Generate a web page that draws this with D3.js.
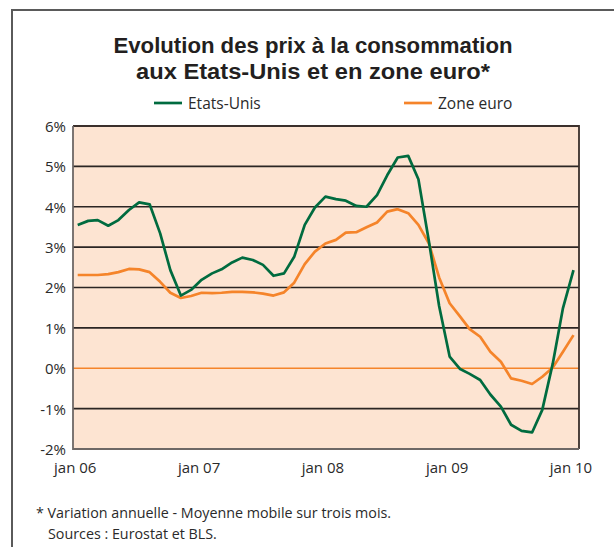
<!DOCTYPE html>
<html>
<head>
<meta charset="utf-8">
<script src="https://cdn.jsdelivr.net/npm/d3@7"></script>
<style>
  body { margin: 0; background: #fff; }
  svg { display: block; }
  text { font-family: "Open Sans", "Noto Sans", sans-serif; fill: #2a2a2a; }
</style>
</head>
<body>
<svg id="chart" width="614" height="547"></svg>
<script>
// monthly, jan 06 -> jan 10 (3-month moving average, % y/y)
const months = d3.timeMonth.range(new Date(2006, 0, 1), new Date(2010, 0, 2));

const etatsUnis = [
  3.55, 3.65, 3.67, 3.53, 3.67, 3.92, 4.11, 4.06, 3.34, 2.43, 1.80, 1.94,
  2.19, 2.35, 2.45, 2.62, 2.74, 2.68, 2.56, 2.29, 2.35, 2.76, 3.55, 3.98,
  4.25, 4.19, 4.15, 4.02, 4.00, 4.29, 4.78, 5.22, 5.26, 4.68, 3.14, 1.54,
  0.29, -0.02, -0.14, -0.29, -0.65, -0.95, -1.40, -1.55, -1.59, -1.03, 0.12, 1.49,
  2.43
];

const zoneEuro = [
  2.31, 2.31, 2.31, 2.33, 2.38, 2.46, 2.45, 2.38, 2.14, 1.87, 1.74, 1.79,
  1.87, 1.86, 1.87, 1.89, 1.89, 1.88, 1.85, 1.80, 1.88, 2.12, 2.58, 2.89,
  3.09, 3.18, 3.36, 3.37, 3.49, 3.61, 3.88, 3.94, 3.84, 3.55, 3.09, 2.25,
  1.61, 1.28, 0.97, 0.78, 0.41, 0.16, -0.25, -0.31, -0.39, -0.21, 0.02, 0.41,
  0.82
];

const yTicks = [-2, -1, 0, 1, 2, 3, 4, 5, 6];
const xTicks = [new Date(2006, 0, 1), new Date(2007, 0, 1), new Date(2008, 0, 1), new Date(2009, 0, 1), new Date(2010, 0, 1)];
const xTickLabels = ["jan 06", "jan 07", "jan 08", "jan 09", "jan 10"];

const titleLines = ["Evolution des prix à la consommation", "aux Etats-Unis et en zone euro*"];
const titleWidths = [399, 354];
const seriesNames = ["Etats-Unis", "Zone euro"];
const notes = ["* Variation annuelle - Moyenne mobile sur trois mois.", "Sources : Eurostat et BLS."];

const green = "#006b3f";
const orange = "#f5842a";

const svg = d3.select("#chart");

// outer frame (left + top only)
svg.append("path")
  .attr("d", "M12,547 L12,10 L614,10")
  .attr("fill", "none")
  .attr("stroke", "#5a5a5a")
  .attr("stroke-width", 2);

// title (condensed bold, squeezed to the reference widths)
svg.append("g").selectAll("text")
  .data(titleLines)
  .join("text")
  .attr("x", 313)
  .attr("y", (d, i) => 53 + i * 25.5)
  .attr("text-anchor", "middle")
  .attr("textLength", (d, i) => titleWidths[i])
  .attr("lengthAdjust", "spacingAndGlyphs")
  .style("font-family", "'Liberation Sans', Arial, sans-serif")
  .style("font-weight", "bold")
  .style("font-size", "22px")
  .style("fill", "#231f20")
  .text(d => d);

const plot = { left: 73, right: 579, top: 126, bottom: 449 };

const x = d3.scaleTime()
  .domain([months[0], months[months.length - 1]])
  .range([77.7, 573.5]);

const y = d3.scaleLinear()
  .domain([-2, 6])
  .range([plot.bottom, plot.top]);

// background
svg.append("rect")
  .attr("x", plot.left)
  .attr("y", plot.top)
  .attr("width", plot.right - plot.left)
  .attr("height", plot.bottom - plot.top)
  .attr("fill", "#fde4d2");

// grid lines
svg.append("g").selectAll("line")
  .data(yTicks.filter(d => d > -2 && d < 6))
  .join("line")
  .attr("x1", plot.left)
  .attr("x2", plot.right)
  .attr("y1", d => y(d))
  .attr("y2", d => y(d))
  .attr("stroke", d => d === 0 ? orange : "#2b2523")
  .attr("stroke-width", d => d === 0 ? 1.3 : 1.6);

// plot border
svg.append("path")
  .attr("d", `M${plot.left},${plot.top} L${plot.right},${plot.top} L${plot.right},${plot.bottom}`)
  .attr("fill", "none")
  .attr("stroke", "#3b302c")
  .attr("stroke-width", 1.8);
svg.append("path")
  .attr("d", `M${plot.left},${plot.top} L${plot.left},${plot.bottom} L${plot.right},${plot.bottom}`)
  .attr("fill", "none")
  .attr("stroke", "#6e6866")
  .attr("stroke-width", 1.8);

// y axis labels
const yAxis = d3.axisLeft(y).tickValues(yTicks).tickSize(0).tickPadding(7).tickFormat(d => d + "%");
svg.append("g")
  .attr("transform", `translate(${plot.left},0)`)
  .call(yAxis)
  .call(g => g.select(".domain").remove())
  .call(g => g.selectAll("text")
    .style("font-family", "'Open Sans', sans-serif")
    .style("font-size", "15px")
    .attr("fill", "#2a2a2a")
    .attr("dy", "0.36em"));

// x axis labels
const xAxis = d3.axisBottom(x).tickValues(xTicks).tickSize(0).tickPadding(13)
  .tickFormat((d, i) => xTickLabels[i]);
svg.append("g")
  .attr("transform", `translate(-3,${plot.bottom})`)
  .call(xAxis)
  .call(g => g.select(".domain").remove())
  .call(g => g.selectAll("text")
    .style("font-family", "'Open Sans', sans-serif")
    .style("font-size", "15px")
    .attr("fill", "#2a2a2a"));

// lines
const line = d3.line()
  .x((d, i) => x(months[i]))
  .y(d => y(d));

svg.append("path")
  .datum(zoneEuro)
  .attr("d", line)
  .attr("fill", "none")
  .attr("stroke", orange)
  .attr("stroke-width", 2.7)
  .attr("stroke-linejoin", "round");

svg.append("path")
  .datum(etatsUnis)
  .attr("d", line)
  .attr("fill", "none")
  .attr("stroke", green)
  .attr("stroke-width", 2.7)
  .attr("stroke-linejoin", "round");

// legend
const legendX = [154, 404];
const legend = svg.append("g").selectAll("g")
  .data(seriesNames)
  .join("g")
  .attr("transform", (d, i) => `translate(${legendX[i]},103)`);
legend.append("line")
  .attr("x1", 0).attr("x2", 28)
  .attr("stroke", (d, i) => i === 0 ? green : orange)
  .attr("stroke-width", 2.7);
legend.append("text")
  .attr("x", 34)
  .attr("dy", "0.36em")
  .style("font-size", "15.5px")
  .text(d => d);

// footnotes
svg.append("g").selectAll("text")
  .data(notes)
  .join("text")
  .attr("x", (d, i) => i === 0 ? 36 : 48)
  .attr("y", (d, i) => 518 + i * 21)
  .style("font-size", "14.3px")
  .text(d => d);
</script>
</body>
</html>
